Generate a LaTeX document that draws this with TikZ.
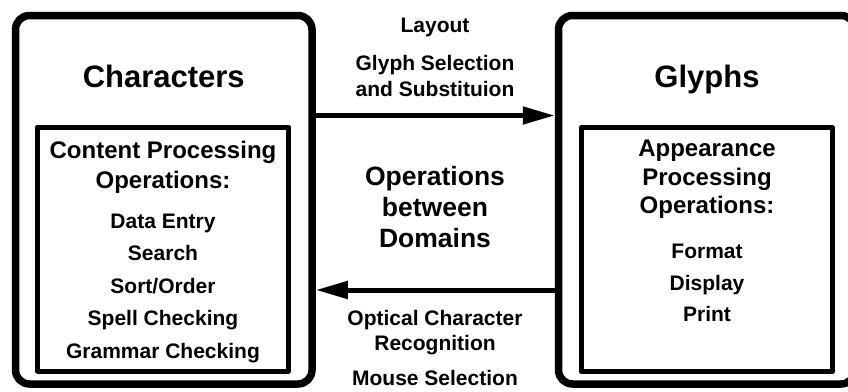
\documentclass[tikz,border=0pt]{standalone}
\usepackage{fontspec}
\setmainfont{Liberation Sans}
\usetikzlibrary{arrows.meta}

\begin{document}
\begin{tikzpicture}
  [x=1pt,y=-1pt,line join=round,
   domainbox/.style={draw,line width=7.5pt,rounded corners=14pt,minimum width=296.5pt,minimum height=368.5pt},
   opsbox/.style={draw,line width=5pt,minimum width=251pt,minimum height=244pt},
   title/.style={font=\fontsize{31}{37}\selectfont\bfseries,anchor=base},
   head/.style={font=\fontsize{24}{29}\selectfont\bfseries,anchor=base},
   item/.style={font=\fontsize{21}{25}\selectfont\bfseries,anchor=base},
   mid/.style={font=\fontsize{26.5}{32}\selectfont\bfseries,anchor=base},
   arr/.style={line width=5pt,-{Triangle[length=32pt,width=17pt]}}]
  \useasboundingbox (0,0) rectangle (848,391);
  % the two domains
  \node[domainbox] (chars) at (163.75,199.75) {};
  \node[domainbox] (glyphs) at (706.75,199.75) {};
  \node[opsbox] (cops) at (163,249) {};
  \node[opsbox] (gops) at (706.75,249.5) {};
  \node[title] (ctitle) at (163.75,87) {Characters};
  \node[title] (gtitle) at (707,87) {Glyphs};
  % characters side
  \foreach \t [count=\i] in {Content Processing,Operations:}
    \node[head] (chead\i) at (163,{158.5+30*(\i-1)}) {\t};
  \foreach \t [count=\i] in {Data Entry,Search,{Sort/Order},Spell Checking,Grammar Checking}
    \node[item] (citem\i) at (163,{228.5+32.4*(\i-1)}) {\t};
  % glyphs side
  \foreach \t [count=\i] in {Appearance,Processing,Operations:}
    \node[head] (ghead\i) at (707,{156.5+28.5*(\i-1)}) {\t};
  \foreach \t [count=\i] in {Format,Display,Print}
    \node[item] (gitem\i) at (707,{258.5+31.5*(\i-1)}) {\t};
  % between the domains
  \node[item] (layout) at (435,32.5) {Layout};
  \node[item] (gsel) at (435,70.7) {Glyph Selection};
  \node[item] (gsub) at (435,96.5) {and Substituion};
  \foreach \t [count=\i] in {Operations,between,Domains}
    \node[mid] (ops\i) at (435,{185+31*(\i-1)}) {\t};
  \node[item] (ocr1) at (435,325) {Optical Character};
  \node[item] (ocr2) at (435,350.5) {Recognition};
  \node[item] (msel) at (435,385) {Mouse Selection};
  \draw[arr] ([yshift=84.25pt]chars.east) -- ([yshift=84.25pt]glyphs.west);
  \draw[arr] ([yshift=-90.25pt]glyphs.west) -- ([yshift=-90.25pt]chars.east);
\end{tikzpicture}
\end{document}
